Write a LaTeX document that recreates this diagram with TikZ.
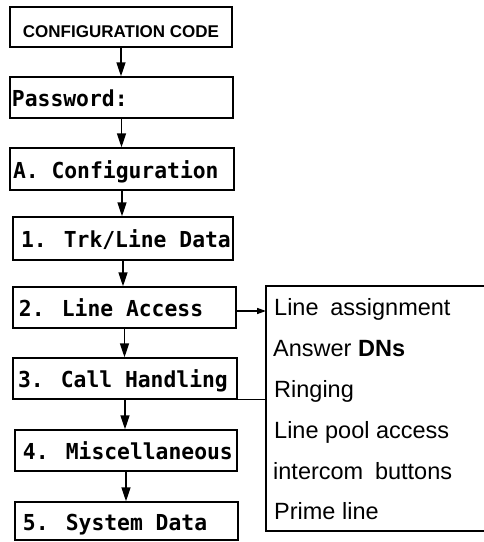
\documentclass[tikz,border=0pt]{standalone}
\usepackage{fontspec}
\setmainfont{Liberation Sans}
\newfontfamily\monob[FakeStretch=0.97]{DejaVu Sans Mono}
\usetikzlibrary{arrows.meta}
\begin{document}
\begin{tikzpicture}[x=1pt,y=-1pt,
  box/.style={draw, line width=1.4pt, inner ysep=0pt, text height=19.5pt, text depth=1.5pt,
    font=\monob\bfseries\fontsize{22}{24}\selectfont},
  varr/.style={line width=1.4pt, -{Triangle[length=14pt,width=9pt]}},
  sarr/.style={line width=1.4pt, -{Triangle[length=9pt,width=6pt]}},
  frame/.style={line width=2pt},
  item/.style={anchor=base west, inner sep=0pt, font=\fontsize{23.5}{26}\selectfont}]
\useasboundingbox (0,0) rectangle (484,542);

\node[box, minimum height=40pt, inner xsep=4pt, text height=21pt, text depth=1pt,
  font=\bfseries\fontsize{17}{20}\selectfont] (b1) at (121,27) {\makebox[214pt][c]{CONFIGURATION CODE}};
\node[box, minimum height=41pt, inner xsep=2pt] (b2) at (121.5,97.5) {\makebox[219pt][l]{Password:}};
\node[box, minimum height=42pt, inner xsep=3pt] (b3) at (122,169) {\makebox[218pt][l]{A. Configuration}};
\node[box, minimum height=43pt, inner xsep=8pt] (b4) at (123,238.5) {\makebox[204pt][l]{1. Trk/Line Data}};
\node[box, minimum height=41pt, inner xsep=6pt] (b5) at (124.5,307.5) {\makebox[211pt][l]{2. Line Access}};
\node[box, minimum height=41pt, inner xsep=5pt] (b6) at (125,378.5) {\makebox[214pt][l]{3. Call Handling}};
\node[box, minimum height=41pt, inner xsep=8pt] (b7) at (126,450.5) {\makebox[206pt][l]{4. Miscellaneous}};
\node[box, minimum height=38pt, inner xsep=8pt] (b8) at (126.5,521) {\makebox[207pt][l]{5. System Data}};

\draw[varr] (b1.south) -- (b1.south |- b2.north);
\draw[varr] (b2.south) -- (b2.south |- b3.north);
\draw[varr] (b3.south) -- (b3.south |- b4.north);
\draw[varr] (b4.south) -- (b4.south |- b5.north);
\draw[varr] (b5.south) -- (b5.south |- b6.north);
\draw[varr] (b6.south) -- (b6.south |- b7.north);
\draw[varr] (b7.south) -- (b7.south |- b8.north);

\coordinate (lt) at (266,286);
\coordinate (lb) at (266,531);
\coordinate (ltr) at (490,286);
\coordinate (lbr) at (490,531);
\draw[frame] (ltr) -- (lt) -- (lb) -- (lbr);

\node[item] (l1) at (274,315) {Line\enspace assignment};
\node[item] (l2) at (273,356) {Answer \textbf{DNs}};
\node[item] (l3) at (274,397) {Ringing};
\node[item] (l4) at (274,438) {Line pool access};
\node[item] (l5) at (273,479) {intercom\enspace buttons};
\node[item] (l6) at (274,519) {Prime line};

\draw[sarr] ([yshift=-3.5pt]b5.east) -- ([yshift=-3.5pt]b5.east -| lt);
\draw[line width=1.4pt] (b6.south east) -- (b6.south east -| lt);
\end{tikzpicture}
\end{document}
